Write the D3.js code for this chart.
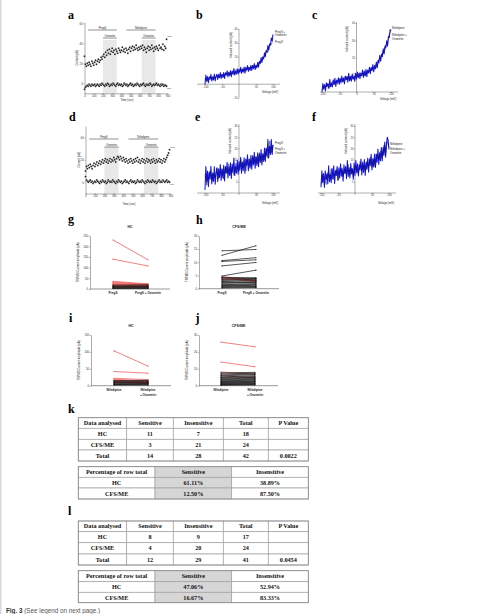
<!DOCTYPE html>
<html><head><meta charset="utf-8">
<script src="https://cdn.jsdelivr.net/npm/d3@7"></script>
<style>body{margin:0;background:#fff}svg{display:block}</style>
</head><body>
<svg id="chart" width="483" height="614"></svg>
<script>
// ---------------- DATA ----------------
// a / d : time course, one sample every 10 s
const sampleStep = 10;
const timeTicks = [0,100,200,300,400,500,600,700,800,900];
const drugBars = [
  {name:"PregS", t0:40, t1:350, level:0},
  {name:"Ononetin", t0:200, t1:350, level:1},
  {name:"Nifedipine", t0:455, t1:770, level:0},
  {name:"Ononetin", t0:620, t1:770, level:1}
];
const ononetinWindows = [[200,350],[620,770]];

const aUpper = [27,19,17,20,18,21,19,17,22,20, 18,21,23,19,22,24,21,23,26,24,
  27,29,26,31,28,33,30,34,29,32, 35,31,33,29,34,32,30,35,33,31,
  33,36,32,34,31,35,33,30,34,36, 32,35,37,33,36,34,38,35,33,36,
  34,37,35,38,33,36,34,31,35,37, 33,36,34,38,35,32,36,34,37,35,
  33,38,35,36,34,39,33,37,35,44];
const aLower = [-6,-4,-3,-2,-3,-1,-2,-3,-1,-2, -2,-1,-3,-2,-1,-2,-3,-1,-2,0,
  -1,-2,-3,-1,-2,0,-1,-3,-2,-1, -2,0,-1,-2,-3,-1,0,-2,-1,-2,
  -1,-3,-2,0,-1,-2,-1,-3,-2,-1, 0,-2,-1,-3,-2,-1,-2,0,-1,-2,
  -3,-1,-2,-1,0,-2,-3,-1,-2,-1, -2,0,-1,-3,-2,-1,-2,-1,0,-2,
  -1,-2,-3,-1,-2,-1,-3,-2,-2,-3];
const dUpper = [10,14,12,15,13,16,14,12,15,17, 14,16,18,15,17,19,16,18,20,17,
  19,21,18,20,17,19,21,18,20,19, 22,20,18,21,23,22,20,23,21,19,
  22,20,18,21,19,17,20,18,21,19, 17,20,18,21,19,22,18,20,17,19,
  21,18,20,17,19,21,18,20,19,17, 20,18,21,19,17,20,18,19,21,18,
  20,17,19,21,18,20,22,24,26,29];
const dLower = [5,2,1,0,1,2,0,1,-1,0, 1,0,2,1,0,-1,1,0,2,1,
  0,1,-1,0,2,1,0,1,0,2, 1,0,-1,1,0,2,1,0,1,-1,
  0,1,2,0,1,0,-1,1,2,0, 1,0,1,-1,0,2,1,0,1,0,
  2,1,0,-1,1,0,2,1,0,1, 0,2,1,0,1,-1,0,1,2,0,
  1,0,2,1,0,1,2,0,1,0];

// b c e f : voltage ramps -100..+100 mV (blue sampled every 2.5 mV, black every 5 mV)
const rampStart = -100, rampFine = 2.5, rampCoarse = 5;
const voltTicks = [-100,-50,0,50,100];
const bBlue = [0,6.7,2.3,5.5,1.1,5.3,3.5,7.1,2.3,5.4, 3.1,7.3,2.4,5.6,7.2,3.4,7.1,4.7,8.4,4.0,
  7.2,4.9,8.5,4.2,8.3,6.5,9.7,5.3,8.5,6.1, 9.8,5.5,9.6,7.3,11.4,6.6,9.3,7.4,11.1,7.2,
  10.9,8.6,12.2,7.9,11.0,8.7,12.4,8.0,12.2,10.3, 13.5,9.2,12.3,10.0,13.7,9.9,13.6,11.3,14.9,10.6,
  13.7,11.7,15.8,12.4,16.5,14.9,19.3,15.8,19.8,18.3, 22.8,19.9,24.5,23.2,28.0,24.8,29.3,28.4,33.5,31.5,36.1];
const bBlack = [4,1.8,4.1,5.5,3.3,5.1,4.4,6.7,4.6,5.9, 7.2,5.0,7.8,6.7,9.0,6.8,8.6,6.9,9.8,9.1,
  8.4,11.2,9.5,11.4,9.2,11.5,12.3,10.7,13.6,11.9, 13.7,12.8,16.5,15.8,19.3,19.8,24.0,23.0,27.5,28.5,32.5];
const cBlue = [0.1,4.9,1.6,4.3,0.6,5.3,3.1,4.8,2.0,7.3, 3.0,5.2,2.9,7.1,4.3,8.0,3.2,6.9,5.5,8.2,
  4.4,8.0,5.2,9.3,5.9,8.1,4.7,9.3,7.0,9.1, 5.7,10.8,6.5,9.1,6.2,10.3,7.4,9.1,6.2,10.8,
  7.4,11.6,8.3,11.0,7.7,10.9,9.6,12.8,8.4,12.1, 9.3,13.1,8.9,12.7,11.0,14.3,10.6,14.3,12.6,15.9,
  11.7,15.3,13.4,17.4,14.0,18.4,16.9,21.3,17.8,21.9, 20.5,25.0,22.0,26.7,25.5,29.7,26.5,32.2,31.5,36.2,35.5];
const cBlack = [1.1,3.6,2.6,5.1,2.5,5.0,5.9,4.3,6.2,4.5, 7.4,6.7,5.9,8.7,7.0,8.7,6.5,9.2,7.9,9.2,
  9.9,8.3,11.2,9.1,10.9,9.3,12.4,11.5,13.6,12.1, 14.2,15.9,14.5,18.9,19.3,23.0,23.0,27.0,28.0,33.5,35.5];
const eBlue = [1.4,11.9,4.9,9.8,2.8,9.3,6.2,12.0,4.1,9.0, 5.2,11.7,3.9,8.8,11.3,5.1,10.8,6.9,12.7,5.6,
  10.6,6.7,12.4,5.4,11.9,8.9,13.8,6.7,11.7,7.8, 13.5,6.5,13.0,9.2,15.7,7.8,12.0,8.9,14.6,8.4,
  14.1,10.3,16.0,8.9,13.9,10.0,15.8,8.7,15.2,12.2, 17.1,10.0,15.0,11.1,16.9,10.6,16.3,12.5,18.2,11.1,
  16.1,12.3,18.0,11.8,17.5,13.7,19.5,12.6,17.7,14.1, 20.1,14.1,20.1,16.5,24.0,15.7,20.9,17.3,24.0,17.2,21.5];
const eBlack = [8.2,3.5,7.8,10.0,5.3,8.6,6.9,11.1,6.4,8.7, 11.0,6.2,11.5,8.8,13.1,8.3,11.6,7.9,13.2,11.4,
  9.7,15.0,11.3,14.6,9.8,14.1,15.4,11.7,16.9,13.2, 16.5,12.8,18.1,13.5,17.1,14.9,19.7,15.5,23.3,18.0,21.7];
const fBlue = [2.6,10.0,4.6,8.7,2.5,9.9,6.0,8.6,4.0,12.2, 5.1,8.5,4.6,11.1,6.4,12.2,4.3,10.0,7.8,11.9,
  5.6,11.3,6.6,13.1,7.5,10.8,5.3,12.6,8.7,11.9, 6.4,14.5,7.4,11.4,6.7,13.2,8.5,10.9,6.2,13.5,
  7.9,14.5,9.0,13.1,7.6,12.6,10.3,15.2,8.1,13.9, 9.2,15.0,7.9,13.7,10.6,15.6,9.3,15.2,12.2,17.3,
  10.3,15.4,11.7,17.5,11.4,17.4,13.7,19.7,12.8,18.0, 14.4,20.4,14.3,20.4,16.8,22.8,16.0,22.0,25.0,23.6,19.5];
const fBlack = [3.8,8.2,7.5,3.8,9.2,6.5,10.8,6.0,8.3,10.6, 5.8,10.0,11.1,7.3,10.5,8.6,12.8,7.9,11.1,7.2,
  12.3,10.6,8.8,14.1,10.3,12.6,9.9,14.2,11.5,16.0, 11.5,15.1,11.6,17.3,15.0,18.8,15.5,21.4,17.2,23.0,20.8];

// g h i j : paired amplitudes (pA); sens 1 = red (sensitive), 0 = black
const gPre  = [230,140,36,32,28,25,22,19,16,13,10, 18,14,11,8,6,4,2];
const gPost = [137,108,24,22,20,17,15,13,11,9,7, 20,15,12,9,6,4,2];
const gSens = [1,1,1,1,1,1,1,1,1,1,1, 0,0,0,0,0,0,0];
const hPre  = [4.6,4.1,3.7, 14.3,12.6,10.6,10.3,8.6,4.8,4.3,4.0,3.6,3.3,3.0,2.7,2.4,2.1,1.8,1.5,1.2,1.0,0.8,0.5,0.3];
const hPost = [3.0,2.6,3.2, 14.8,16.2,11.7,10.9,9.9,7.0,4.1,3.9,3.8,3.5,2.8,3.1,2.2,2.4,1.6,1.9,1.0,1.3,0.6,0.8,0.4];
const hSens = [1,1,1, 0,0,0,0,0,0,0,0,0,0,0,0,0,0,0,0,0,0,0,0,0];
const iPre  = [103,42,22,19,16,13,11,9, 15,13,11,9,7,5,4,3,2];
const iPost = [58,37,18,14,11,9,8,6, 16,14,12,10,8,6,5,3,2];
const iSens = [1,1,1,1,1,1,1,1, 0,0,0,0,0,0,0,0,0];
const jPre  = [25.8,14.0,8.1,6.0, 7.6,7.0,6.4,5.8,5.2,4.8,4.4,4.0,3.6,3.2,2.8,2.5,2.2,1.9,1.6,1.3,1.0,0.7,0.5,0.3];
const jPost = [23.0,11.2,6.8,4.6, 7.9,7.4,6.9,6.5,5.9,5.4,5.0,4.6,4.2,3.8,3.4,3.0,2.6,2.3,2.0,1.6,1.3,1.0,0.7,0.4];
const jSens = [1,1,1,1, 0,0,0,0,0,0,0,0,0,0,0,0,0,0,0,0,0,0,0,0];
const pregCats = ["PregS","PregS + Ononetin"];
const nifeCats = [["Nifedipine"],["Nifedipine","+ Ononetin"]];

// k l : tables
const countHeader = ["Data analysed","Sensitive","Insensitive","Total","P Value"];
const pctHeader = ["Percentage of row total","Sensitive","Insensitive"];
const kCounts = [["HC","11","7","18",""],["CFS/ME","3","21","24",""],["Total","14","28","42","0.0022"]];
const kPct = [["HC","61.11%","38.89%"],["CFS/ME","12.50%","87.50%"]];
const lCounts = [["HC","8","9","17",""],["CFS/ME","4","20","24",""],["Total","12","29","41","0.0454"]];
const lPct = [["HC","47.06%","52.94%"],["CFS/ME","16.67%","83.33%"]];

// ---------------- DRAWING ----------------
const svg = d3.select('#chart');
const SANS = "'Liberation Sans', Arial, Helvetica, sans-serif";
const SERIF = "'Liberation Serif', 'Times New Roman', serif";
svg.append('rect').attr('x',0).attr('y',0).attr('width',483).attr('height',614).attr('fill','#fff');
svg.append('rect').attr('x',0).attr('y',0).attr('width',1.5).attr('height',614).attr('fill','#d9d9d9');

function txt(x,y,s,o={}){
  const t = svg.append('text').attr('x',x).attr('y',y).text(s)
    .attr('font-family',o.ff||SANS).attr('font-size',o.fs||3).attr('fill',o.fill||'#222');
  if(o.anchor) t.attr('text-anchor',o.anchor);
  if(o.bold) t.attr('font-weight','bold');
  if(o.rot) t.attr('transform',`rotate(-90,${x},${y})`);
  return t;
}
function styleAxis(g,fs){
  g.attr('font-size',fs).attr('font-family',SANS);
  g.selectAll('line').attr('stroke','#333').attr('stroke-width',0.4);
  g.selectAll('path').attr('stroke','#333').attr('stroke-width',0.4);
  g.selectAll('text').attr('fill','#333');
}
function letter(x,y,s){ txt(x,y,s,{ff:SERIF,fs:12,bold:true,fill:'#000'}); }

// --- time course panels ---
function timePanel(p){
  const x = d3.scaleLinear().domain([0,900]).range([p.xl,p.xr]);
  const y = d3.scaleLinear().domain(p.yDom).range([p.yB,p.yT]);
  ononetinWindows.forEach(w=>svg.append('rect').attr('x',x(w[0])).attr('y',p.shadeTop)
    .attr('width',x(w[1])-x(w[0])).attr('height',p.yB-p.shadeTop).attr('fill','#e8e8e8'));
  drugBars.forEach(b=>{
    const yy = b.level===0 ? p.bar1 : p.bar2;
    svg.append('line').attr('x1',x(b.t0)).attr('x2',x(b.t1)).attr('y1',yy).attr('y2',yy)
      .attr('stroke','#222').attr('stroke-width',0.5);
    txt((x(b.t0)+x(b.t1))/2, yy-1.1, b.name, {anchor:'middle',fs:2.7});
  });
  const gx = svg.append('g').attr('transform',`translate(0,${p.yB})`)
    .call(d3.axisBottom(x).tickValues(timeTicks).tickSize(1).tickSizeOuter(0).tickPadding(0.5).tickFormat(d3.format('d')));
  styleAxis(gx,2.6);
  const gy = svg.append('g').attr('transform',`translate(${p.xl},0)`)
    .call(d3.axisLeft(y).tickValues(p.ticks).tickSize(1).tickSizeOuter(0).tickPadding(0.8));
  styleAxis(gy,2.8);
  txt((p.xl+p.xr)/2+1, p.titleY, "Time (sec)", {anchor:'middle',fs:2.8});
  txt(p.xl-6, (p.yT+p.yB)/2, "Current (pA)", {anchor:'middle',fs:2.8,rot:true});
  [p.upper,p.lower].forEach(arr=>{
    svg.append('g').selectAll('circle').data(arr).join('circle')
      .attr('cx',(d,i)=>x(i*sampleStep)).attr('cy',d=>y(d)).attr('r',0.95)
      .attr('fill','#111').attr('stroke','#fff').attr('stroke-width',0.2);
  });
  txt(p.xr-1, y(p.upper[p.upper.length-1])-2, "+100", {fs:2.3});
  txt(p.xr-1, y(d3.mean(p.lower))+3.5, "-100", {fs:2.3});
}

timePanel({xl:84.5, xr:167.5, yB:93.3, yT:22.3, yDom:[-10,61], ticks:[0,20,40,60],
  shadeTop:40, bar1:30, bar2:38, titleY:101.3, upper:aUpper, lower:aLower});
timePanel({xl:85.5, xr:170.5, yB:193.5, yT:126, yDom:[-10,50], ticks:[0,20,40],
  shadeTop:147, bar1:139, bar2:147, titleY:204.5, upper:dUpper, lower:dLower});

// --- IV ramp panels ---
function ivPanel(p){
  const x = d3.scaleLinear().domain([-100,100]).range([p.xl,p.xr]);
  const y = d3.scaleLinear().domain(p.yDom).range([p.yB,p.yT]);
  const y0 = y(0), x0 = x(0);
  svg.append('line').attr('x1',p.axL).attr('x2',p.axR).attr('y1',y0).attr('y2',y0).attr('stroke','#333').attr('stroke-width',0.4);
  svg.append('line').attr('x1',x0).attr('x2',x0).attr('y1',p.yAxT).attr('y2',p.yAxB).attr('stroke','#333').attr('stroke-width',0.4);
  const gx = svg.append('g').attr('transform',`translate(0,${y0})`)
    .call(d3.axisBottom(x).tickValues(p.xTicks).tickSize(1).tickPadding(0.6).tickFormat(d3.format('d')));
  gx.select('.domain').remove(); styleAxis(gx,2.6);
  const gy = svg.append('g').attr('transform',`translate(${x0},0)`)
    .call(d3.axisLeft(y).tickValues(p.yTicks).tickSize(1).tickPadding(0.6).tickFormat(d3.format('d')));
  gy.select('.domain').remove(); styleAxis(gy,2.6);
  const lineFine = d3.line().x((d,i)=>x(rampStart+i*rampFine)).y(d=>y(d));
  const lineCoarse = d3.line().x((d,i)=>x(rampStart+i*rampCoarse)).y(d=>y(d));
  svg.append('path').attr('d',lineFine(p.blue)).attr('fill','none').attr('stroke','#1414e8').attr('stroke-width',1.05).attr('stroke-linejoin','round');
  svg.append('path').attr('d',lineCoarse(p.black)).attr('fill','none').attr('stroke','#111').attr('stroke-width',0.45);
  txt(p.vx, p.vy, "Voltage (mV)", {anchor:'middle',fs:2.8});
  txt(p.ix, p.iy, "Induced current (pA)", {anchor:'middle',fs:2.8,rot:true});
  p.legend.forEach(l=>txt(l[1], l[2], l[0], {fs:2.8}));
}

ivPanel({xl:205, xr:273, yDom:[-10,40], yB:98, yT:29, axL:197, axR:280, yAxT:29, yAxB:98,
  xTicks:[-100,-50,50,100], yTicks:[-10,10,20,30,40], blue:bBlue, black:bBlack,
  vx:270, vy:92.5, ix:232, iy:45,
  legend:[["PregS +",275,32.5],["Ononetin",275,36],["PregS",275,43]]});
ivPanel({xl:322, xr:391, yDom:[0,40], yB:92, yT:23, axL:320, axR:398, yAxT:22, yAxB:92,
  xTicks:voltTicks, yTicks:[10,20,30,40], blue:cBlue, black:cBlack,
  vx:388, vy:99.5, ix:347.5, iy:39,
  legend:[["Nifedipine",392,28.5],["Nifedipine +",392,36],["Ononetin",392,39.5]]});
ivPanel({xl:205, xr:273, yDom:[0,30], yB:193, yT:126, axL:197, axR:280, yAxT:124, yAxB:195,
  xTicks:[-100,-50,50,100], yTicks:[5,10,15,20,25,30], blue:eBlue, black:eBlack,
  vx:270, vy:204, ix:231, iy:141,
  legend:[["PregS",275,144],["PregS +",275,150],["Ononetin",275,153.5]]});
ivPanel({xl:321, xr:389, yDom:[0,30], yB:193, yT:126, axL:318, axR:396, yAxT:124, yAxB:195,
  xTicks:[-100,-50,50,100], yTicks:[5,10,15,20,25,30], blue:fBlue, black:fBlack,
  vx:386, vy:204, ix:347, iy:141,
  legend:[["Nifedipine",390,145],["Nifedipine +",390,150],["Ononetin",390,154]]});

// --- paired plots ---
function pairPanel(p){
  const x = d3.scalePoint().domain([0,1]).range([p.c1,p.c2]);
  const y = d3.scaleLinear().domain(p.yDom).range([p.yB,p.yT]);
  svg.append('line').attr('x1',p.ax).attr('x2',p.axR).attr('y1',p.yB).attr('y2',p.yB).attr('stroke','#333').attr('stroke-width',0.5);
  const gy = svg.append('g').attr('transform',`translate(${p.ax},0)`)
    .call(d3.axisLeft(y).tickValues(p.ticks).tickSize(1.2).tickSizeOuter(0).tickPadding(0.6));
  styleAxis(gy,2.9);
  const idx = d3.range(p.pre.length);
  const order = idx.filter(i=>p.sens[i]).concat(idx.filter(i=>!p.sens[i]));
  order.forEach(i=>{
    const col = p.sens[i] ? '#ee4b4b' : '#111';
    svg.append('line').attr('x1',x(0)).attr('x2',x(1)).attr('y1',y(p.pre[i])).attr('y2',y(p.post[i]))
      .attr('stroke',col).attr('stroke-width',0.7);
    [[0,p.pre[i]],[1,p.post[i]]].forEach(q=>svg.append('circle').attr('cx',x(q[0])).attr('cy',y(q[1])).attr('r',0.55).attr('fill',col));
  });
  txt((p.ax+p.axR)/2, p.titleY, p.title, {anchor:'middle',fs:3.6,bold:true});
  txt(p.ax-11, (p.yT+p.yB)/2, "TRPM3 Current amplitude (pA)", {anchor:'middle',fs:2.9,rot:true});
  p.cats.forEach((c,k)=>{
    const lines = Array.isArray(c)?c:[c];
    lines.forEach((s,m)=>txt(x(k), p.yB+5+m*5, s, {anchor:'middle',fs:3.1,bold:true}));
  });
}
pairPanel({ax:90, axR:170, c1:113, c2:148, yDom:[0,250], yB:289, yT:235.7, ticks:[0,50,100,150,200,250],
  pre:gPre, post:gPost, sens:gSens, title:"HC", titleY:227.5, cats:pregCats});
pairPanel({ax:199, axR:279, c1:222, c2:256, yDom:[0,20], yB:288.7, yT:235.7, ticks:[0,5,10,15,20],
  pre:hPre, post:hPost, sens:hSens, title:"CFS/ME", titleY:227.5, cats:pregCats});
pairPanel({ax:91, axR:171, c1:114, c2:148, yDom:[0,150], yB:385.7, yT:335, ticks:[0,50,100,150],
  pre:iPre, post:iPost, sens:iSens, title:"HC", titleY:326.5, cats:nifeCats});
pairPanel({ax:199, axR:278, c1:221, c2:255, yDom:[0,30], yB:385.7, yT:335, ticks:[0,10,20,30],
  pre:jPre, post:jPost, sens:jSens, title:"CFS/ME", titleY:326.5, cats:nifeCats});

// --- tables ---
const colsCount = [78.3,126.7,173.3,223.3,268.3,308.3];
const colsPct = [78.3,155,231.7,308.3];
function drawTable(cols, rowsY, data, shadeCol){
  for(let r=0;r<rowsY.length-1;r++){
    for(let c=0;c<cols.length-1;c++){
      const shaded = (shadeCol!==null && c===shadeCol);
      svg.append('rect').attr('x',cols[c]).attr('y',rowsY[r]).attr('width',cols[c+1]-cols[c]).attr('height',rowsY[r+1]-rowsY[r])
        .attr('fill',shaded?'#d6d6d6':'#fff').attr('stroke','#a0a0a0').attr('stroke-width',0.7);
      const s = data[r][c];
      if(s) txt((cols[c]+cols[c+1])/2, (rowsY[r]+rowsY[r+1])/2+2.1, s, {ff:SERIF,fs:6.2,bold:true,anchor:'middle',fill:'#111'});
    }
  }
  svg.append('rect').attr('x',cols[0]).attr('y',rowsY[0]).attr('width',cols[cols.length-1]-cols[0]).attr('height',rowsY[rowsY.length-1]-rowsY[0])
    .attr('fill','none').attr('stroke','#8c8c8c').attr('stroke-width',0.8);
}
drawTable(colsCount,[417.7,428.3,439.3,450,461],[countHeader].concat(kCounts),null);
drawTable(colsPct,[466.7,477.3,488,499],[pctHeader].concat(kPct),1);
drawTable(colsCount,[521,531.7,542.7,554,565],[countHeader].concat(lCounts),null);
drawTable(colsPct,[570.7,581.7,592.3,602.7],[pctHeader].concat(lPct),1);

// --- panel letters ---
[["a",68,19],["b",196,19],["c",312,19],["d",69,121],["e",195,121],["f",312,121],
 ["g",68,222.5],["h",196,224],["i",69,321.7],["j",195.5,321.7],["k",68,413.3],["l",68,515]]
 .forEach(l=>letter(l[1],l[2],l[0]));

// --- caption ---
const cap = svg.append('text').attr('x',6).attr('y',613.4).attr('font-family',SANS).attr('font-size',6.3);
cap.append('tspan').attr('font-weight','bold').attr('fill','#333').text("Fig. 3");
cap.append('tspan').attr('fill','#555').text(" (See legend on next page.)");
</script>
</body></html>
